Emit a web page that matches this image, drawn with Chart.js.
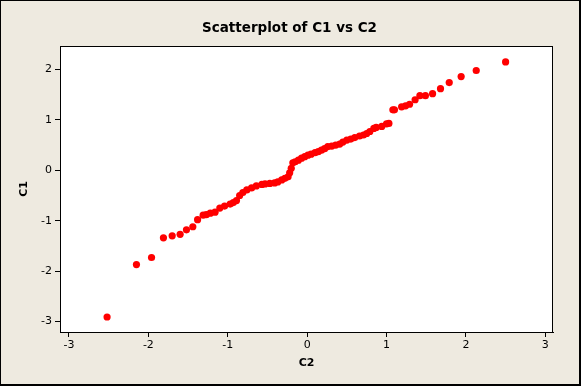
<!DOCTYPE html>
<html>
<head>
<meta charset="utf-8">
<script src="https://cdn.jsdelivr.net/npm/chart.js@4.4.1/dist/chart.umd.min.js"></script>
<style>
  html, body { margin: 0; padding: 0; background: #fff; }
  #wrap { width: 582px; height: 387px; }
</style>
</head>
<body>
<div id="wrap"><canvas id="scatter"></canvas></div>
<script>
// dados
const c2 = [-2.52, -2.15, -1.96, -1.81, -1.70, -1.60, -1.52, -1.44, -1.38, -1.31,
  -1.27, -1.22, -1.16, -1.10, -1.04, -0.97, -0.93, -0.89, -0.85, -0.81,
  -0.76, -0.70, -0.64, -0.57, -0.53, -0.47, -0.41, -0.37, -0.32, -0.28,
  -0.24, -0.22, -0.20, -0.18, -0.15, -0.11, -0.07, -0.03, 0.01, 0.05,
  0.10, 0.14, 0.18, 0.22, 0.26, 0.31, 0.36, 0.41, 0.45, 0.50,
  0.55, 0.60, 0.66, 0.71, 0.75, 0.79, 0.84, 0.87, 0.94, 1.00,
  1.03, 1.08, 1.10, 1.19, 1.24, 1.29, 1.36, 1.42, 1.49, 1.58,
  1.68, 1.79, 1.94, 2.13, 2.50];
const c1 = [-2.91, -1.87, -1.73, -1.34, -1.30, -1.27, -1.18, -1.12, -0.98, -0.89,
  -0.88, -0.85, -0.83, -0.75, -0.71, -0.67, -0.64, -0.60, -0.50, -0.44,
  -0.39, -0.35, -0.31, -0.28, -0.27, -0.26, -0.25, -0.23, -0.19, -0.16,
  -0.13, -0.05, 0.04, 0.15, 0.17, 0.20, 0.24, 0.27, 0.30, 0.32,
  0.35, 0.37, 0.40, 0.43, 0.47, 0.48, 0.50, 0.52, 0.56, 0.60,
  0.62, 0.65, 0.68, 0.70, 0.73, 0.77, 0.83, 0.85, 0.87, 0.92,
  0.93, 1.20, 1.20, 1.26, 1.28, 1.31, 1.40, 1.48, 1.48, 1.52,
  1.62, 1.74, 1.86, 1.98, 2.15];
const xTicks = [-3, -2, -1, 0, 1, 2, 3];
const yTicks = [-3, -2, -1, 0, 1, 2];

const pontos = c2.map((x, i) => ({ x: x, y: c1[i] }));

// fundo bege, moldura e área do gráfico branca
const moldura = {
    id: 'moldura',
    beforeDraw(chart) {
        const ctx = chart.ctx;
        const a = chart.chartArea;
        ctx.save();
        ctx.fillStyle = '#EEEAE0';
        ctx.fillRect(0, 0, 580, 385);
        ctx.fillStyle = '#000';
        ctx.fillRect(0, 0, 580, 1);
        ctx.fillRect(0, 0, 1, 385);
        ctx.fillRect(579, 0, 2, 386);
        ctx.fillRect(0, 384, 581, 2);
        ctx.fillStyle = '#fff';
        ctx.fillRect(a.left, a.top, a.right - a.left, a.bottom - a.top);
        ctx.restore();
    },
    afterDraw(chart) {
        const ctx = chart.ctx;
        const a = chart.chartArea;
        ctx.save();
        ctx.strokeStyle = '#000';
        ctx.lineWidth = 1;
        ctx.strokeRect(a.left + 0.5, a.top + 0.5, a.right - a.left - 1, a.bottom - a.top);
        ctx.restore();
    }
};

const fonteTick = { family: 'DejaVu Sans', size: 11 };

new Chart(document.getElementById('scatter').getContext('2d'), {
    type: 'scatter',
    data: {
        datasets: [{
            label: 'C1 vs C2',
            data: pontos,
            backgroundColor: '#ff0000',
            borderColor: '#ff0000',
            borderWidth: 0,
            pointRadius: 3.6
        }]
    },
    options: {
        responsive: true,
        maintainAspectRatio: false,
        animation: false,
        // padding esquerdo para centralizar o título na janela
        layout: { padding: { top: 0, right: 29, bottom: 0, left: 26 } },
        plugins: {
            legend: { display: false },
            tooltip: { enabled: false },
            title: {
                display: true,
                text: 'Scatterplot of C1 vs C2',
                color: '#000',
                font: { family: 'DejaVu Sans', size: 13.5, weight: 'bold', lineHeight: 1.2 },
                padding: { top: 20, bottom: 9.8 }
            }
        },
        scales: {
            x: {
                type: 'linear',
                min: -3.113,
                max: 3.097,
                afterBuildTicks: s => { s.ticks = xTicks.map(v => ({ value: v })); },
                afterFit: s => { s.height = 55; },
                grid: { drawOnChartArea: false, color: '#000', tickColor: '#000', tickLength: 5 },
                border: { display: true, color: '#000', width: 1 },
                ticks: { color: '#000', font: fonteTick, padding: 2, maxRotation: 0 },
                title: {
                    display: true,
                    text: 'C2',
                    color: '#000',
                    font: { family: 'DejaVu Sans', size: 11, weight: 'bold', lineHeight: 1.2 },
                    padding: { top: 0, bottom: 17.4 }
                }
            },
            y: {
                type: 'linear',
                min: -3.208,
                max: 2.466,
                afterBuildTicks: s => { s.ticks = yTicks.map(v => ({ value: v })); },
                afterFit: s => { s.width = 34; },
                grid: { drawOnChartArea: false, color: '#000', tickColor: '#000', tickLength: 5 },
                border: { display: true, color: '#000', width: 1 },
                ticks: { color: '#000', font: fonteTick, padding: 3 },
                title: {
                    display: true,
                    text: 'C1',
                    color: '#000',
                    font: { family: 'DejaVu Sans', size: 11, weight: 'bold', lineHeight: 1.2 },
                    padding: { top: -8.6, bottom: 0 }
                }
            }
        }
    },
    plugins: [moldura]
});
</script>
</body>
</html>
